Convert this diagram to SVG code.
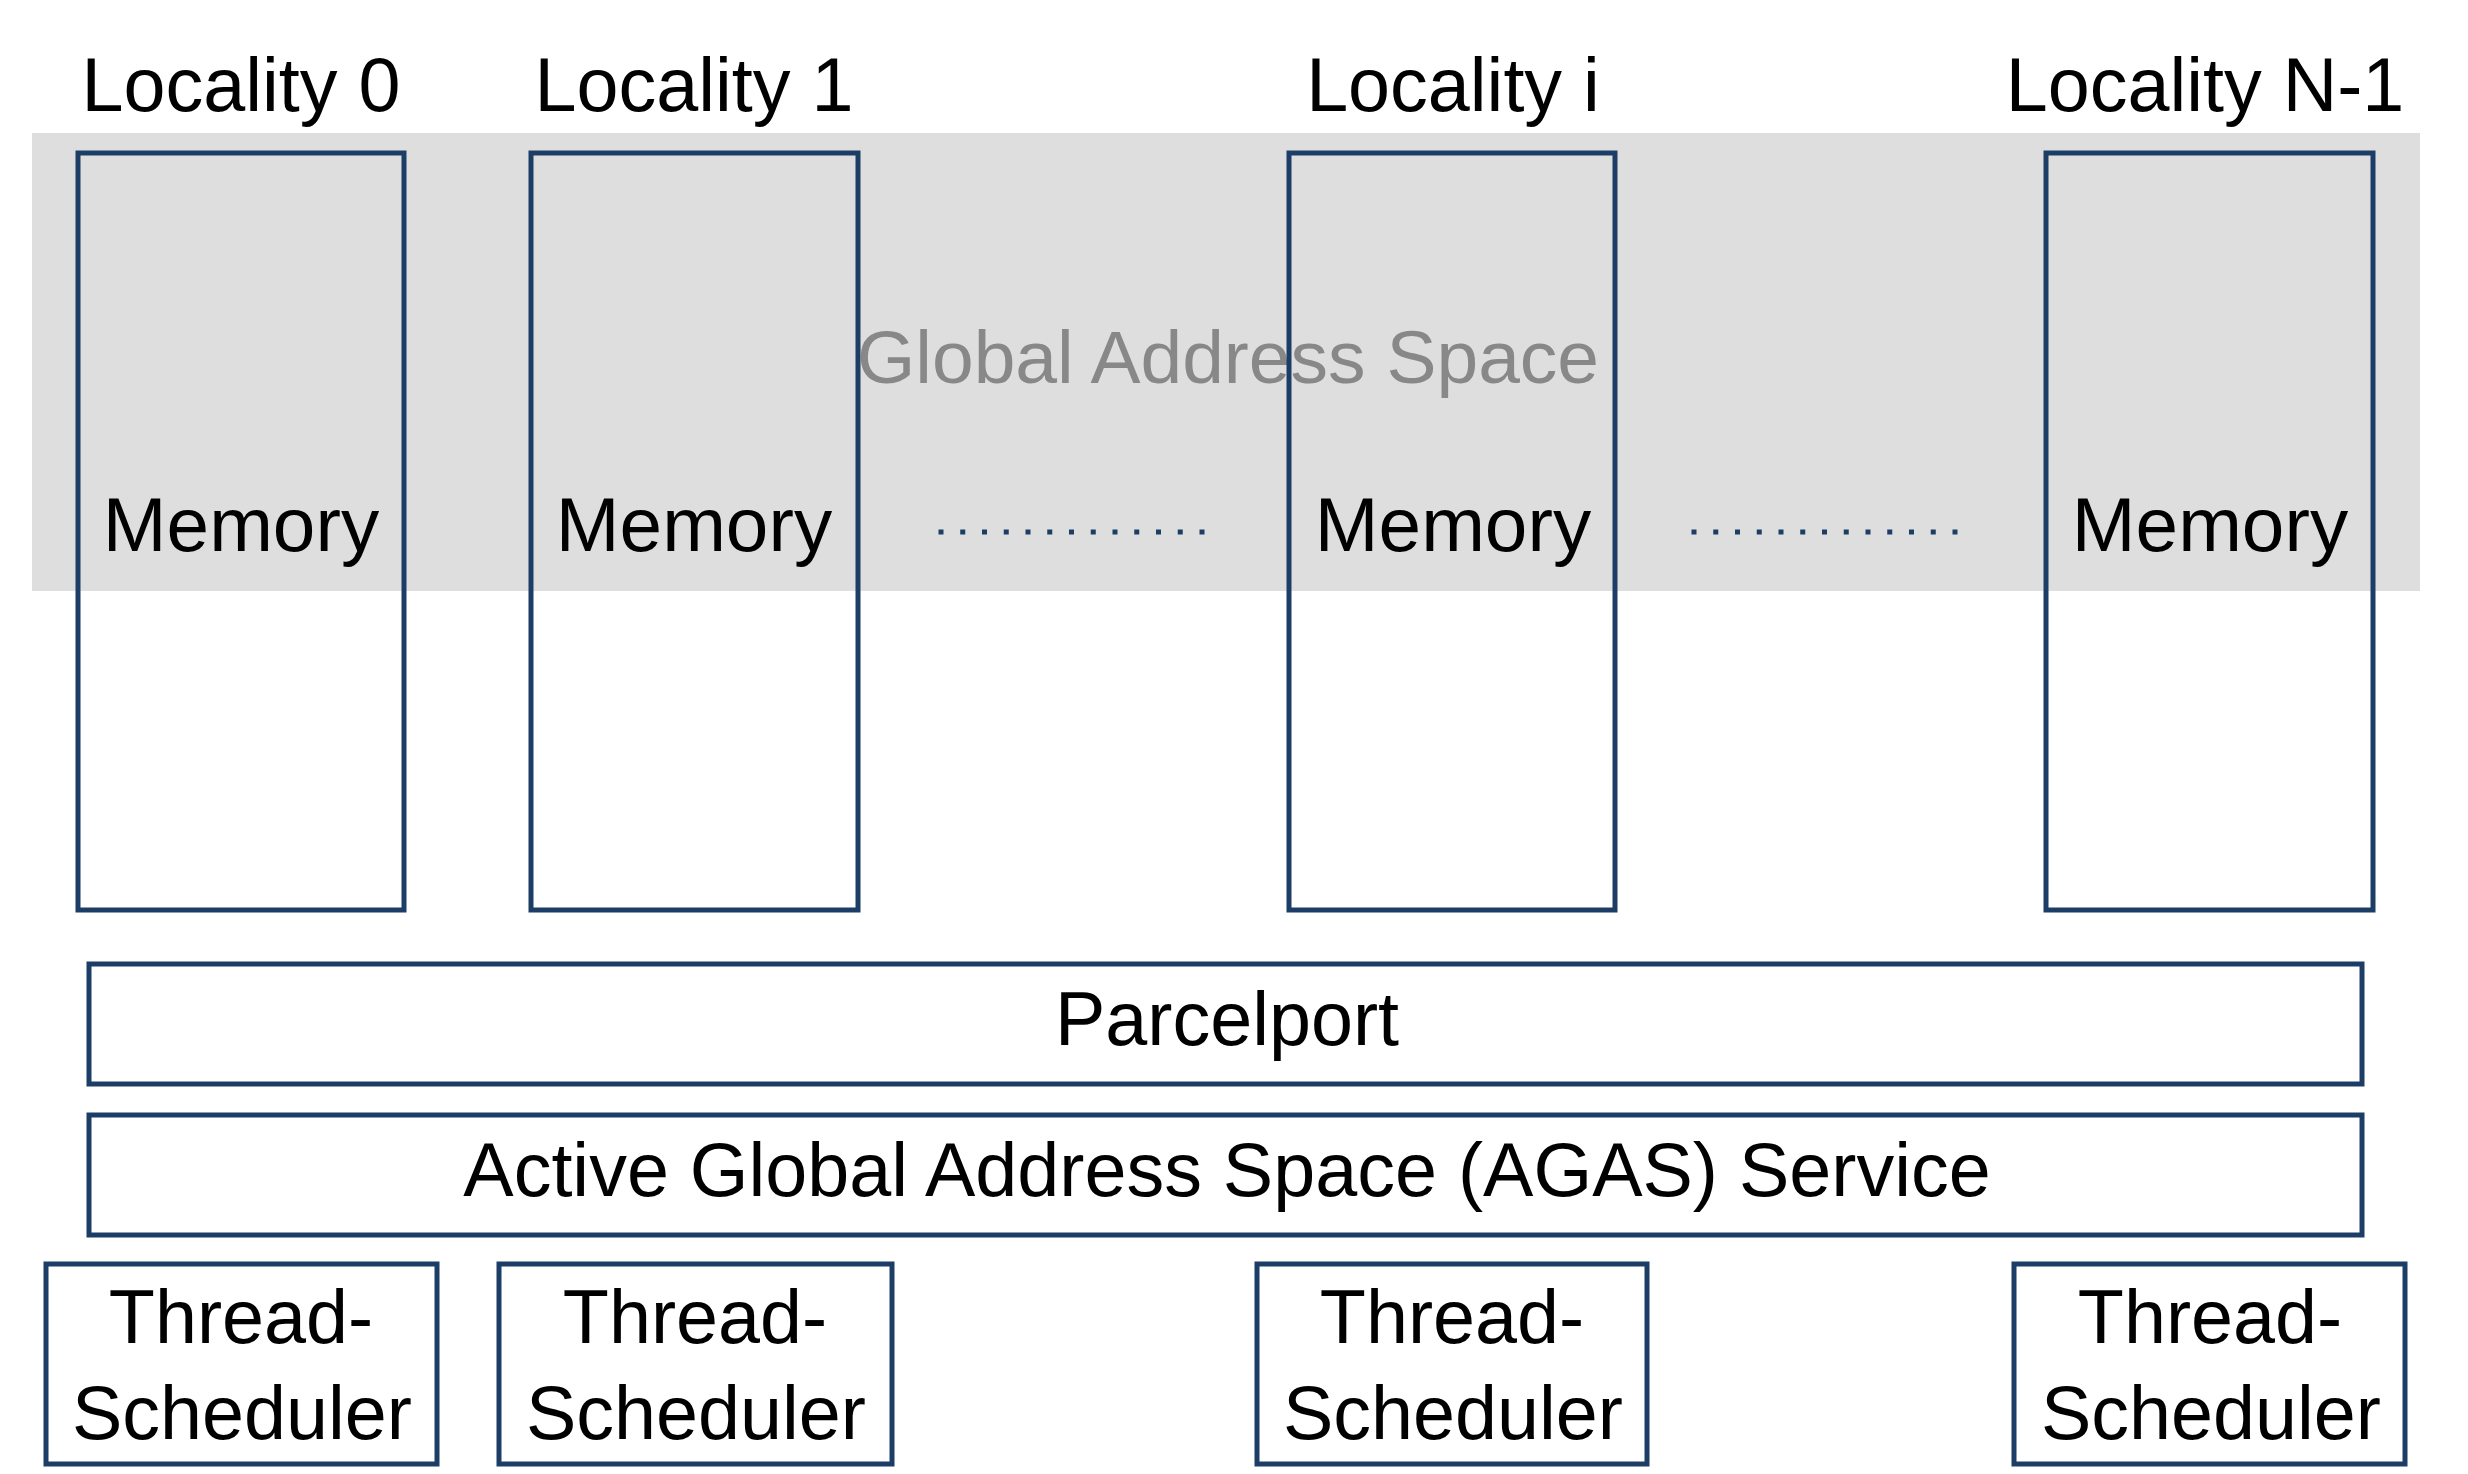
<svg xmlns="http://www.w3.org/2000/svg" width="2468" height="1474" viewBox="0 0 2468 1474">
<style>
.t{font-family:"Liberation Sans",Arial,Helvetica,sans-serif;font-size:75.5px;fill:#000;text-anchor:middle}
.m{font-size:76.5px}
.g{font-family:"Liberation Sans",Arial,Helvetica,sans-serif;font-size:75px;fill:#888;text-anchor:middle}
.b{fill:none;stroke:#1c3d66;stroke-width:5}
.dots{stroke:#1c3d66;stroke-width:5;stroke-dasharray:5 16.75;fill:none}
</style>
<rect width="2468" height="1474" fill="#fff"/>
<rect id="global-address-space" x="32" y="133" width="2388" height="458" fill="#dedede"/>
<text class="g" x="1228" y="383">Global Address Space</text>
<g id="locality-0">
<text class="t" x="241" y="111">Locality 0</text>
<rect class="b" x="78" y="153" width="326" height="757"/>
<text class="t m" x="241" y="551">Memory</text>
</g>
<g id="locality-1">
<text class="t" x="694" y="111">Locality 1</text>
<rect class="b" x="531" y="153" width="327" height="757"/>
<text class="t m" x="694" y="551">Memory</text>
</g>
<g id="locality-i">
<text class="t" x="1453" y="111">Locality i</text>
<rect class="b" x="1289" y="153" width="326" height="757"/>
<text class="t m" x="1453" y="551">Memory</text>
</g>
<g id="locality-n-1">
<text class="t" x="2205" y="111">Locality N-1</text>
<rect class="b" x="2046" y="153" width="327" height="757"/>
<text class="t m" x="2210" y="551">Memory</text>
</g>
<g id="connectors">
<line class="dots" x1="938.5" y1="532" x2="1204.5" y2="532"/>
<line class="dots" x1="1691.5" y1="532" x2="1957.5" y2="532"/>
</g>
<g id="parcelport">
<rect class="b" x="89" y="964" width="2273" height="120"/>
<text class="t" x="1227" y="1045">Parcelport</text>
</g>
<g id="agas">
<rect class="b" x="89" y="1115" width="2273" height="120"/>
<text class="t" x="1227" y="1196">Active Global Address Space (AGAS) Service</text>
</g>
<g id="ts-0">
<rect class="b" x="46" y="1264" width="391" height="200"/>
<text class="t" x="241" y="1343">Thread-</text>
<text class="t" x="242" y="1439">Scheduler</text>
</g>
<g id="ts-1">
<rect class="b" x="499" y="1264" width="393" height="200"/>
<text class="t" x="695" y="1343">Thread-</text>
<text class="t" x="696" y="1439">Scheduler</text>
</g>
<g id="ts-i">
<rect class="b" x="1257" y="1264" width="390" height="200"/>
<text class="t" x="1452" y="1343">Thread-</text>
<text class="t" x="1453" y="1439">Scheduler</text>
</g>
<g id="ts-n-1">
<rect class="b" x="2014" y="1264" width="391" height="200"/>
<text class="t" x="2210" y="1343">Thread-</text>
<text class="t" x="2211" y="1439">Scheduler</text>
</g>
</svg>
